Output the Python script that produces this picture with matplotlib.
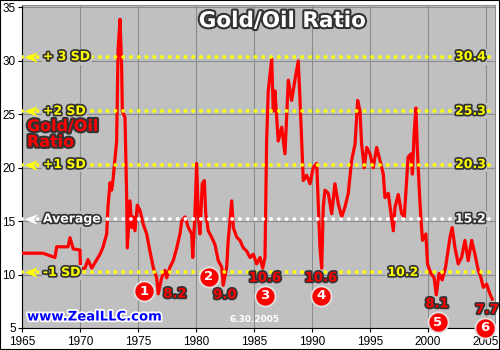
import matplotlib
matplotlib.use("Agg")
import matplotlib.pyplot as plt
import matplotlib.patheffects as pe
from matplotlib.path import Path
from matplotlib.patches import Rectangle

# gold/oil ratio (year, ratio)
years = [1965.0, 1966.81, 1967.84, 1967.99, 1968.97, 1969.14, 1969.42, 1970.0, 1970.04, 1970.43,
         1970.69, 1971.01, 1971.72, 1971.98, 1972.3, 1972.41, 1972.59, 1972.73, 1972.84, 1973.16,
         1973.28, 1973.45, 1973.59, 1973.65, 1973.88, 1974.03, 1974.08, 1974.31, 1974.46, 1974.57,
         1974.74, 1974.94, 1975.17, 1975.46, 1975.75, 1976.03, 1976.32, 1976.61, 1976.75, 1977.04,
         1977.33, 1977.47, 1977.76, 1978.04, 1978.34, 1978.62, 1978.77, 1979.05, 1979.34, 1979.63,
         1979.72, 1979.91, 1980.06, 1980.2, 1980.34, 1980.54, 1980.72, 1980.84, 1981.06, 1981.35,
         1981.64, 1981.92, 1982.22, 1982.35, 1982.65, 1982.78, 1983.08, 1983.22, 1983.51, 1983.79,
         1984.08, 1984.37, 1984.66, 1984.94, 1985.23, 1985.52, 1985.75, 1985.95, 1986.09, 1986.23,
         1986.53, 1986.66, 1986.81, 1987.09, 1987.39, 1987.67, 1987.96, 1988.25, 1988.53, 1988.82,
         1988.97, 1989.11, 1989.25, 1989.54, 1989.83, 1990.11, 1990.41, 1990.49, 1990.69, 1990.84,
         1990.97, 1991.12, 1991.41, 1991.7, 1991.98, 1992.27, 1992.56, 1992.84, 1993.13, 1993.42,
         1993.71, 1993.94, 1994.14, 1994.28, 1994.51, 1994.72, 1995.0, 1995.28, 1995.58, 1995.86,
         1996.15, 1996.29, 1996.58, 1996.81, 1997.01, 1997.16, 1997.44, 1997.73, 1997.96, 1998.09,
         1998.29, 1998.53, 1998.66, 1998.81, 1998.96, 1999.09, 1999.24, 1999.38, 1999.53, 1999.82,
         1999.96, 2000.25, 2000.53, 2000.72, 2000.95, 2001.23, 2001.52, 2001.9, 2002.09, 2002.33,
         2002.61, 2002.9, 2003.19, 2003.47, 2003.77, 2004.05, 2004.34, 2004.57, 2004.77, 2005.06,
         2005.34, 2005.54]
ratio = [12.0, 12.0, 11.6, 12.6, 12.6, 13.45, 12.4, 12.3, 10.55, 10.6,
         11.4, 10.6, 11.9, 12.55, 13.8, 16.3, 18.6, 17.9, 18.8, 22.5,
         31.0, 33.9, 29.4, 25.3, 24.7, 16.9, 12.5, 16.9, 14.4, 15.4,
         14.1, 16.5, 16.0, 14.7, 13.8, 12.2, 10.65, 9.7, 8.2, 9.7,
         10.4, 9.7, 10.7, 11.3, 12.5, 13.8, 15.0, 15.4, 14.4, 13.8,
         11.6, 15.7, 20.4, 15.4, 13.8, 18.5, 18.8, 15.7, 14.1, 13.5,
         12.8, 11.3, 10.7, 9.0, 10.7, 13.2, 16.9, 14.4, 13.5, 13.2,
         12.5, 12.2, 11.6, 11.9, 11.0, 11.6, 10.6, 11.6, 22.5, 27.2,
         30.2, 25.3, 27.2, 22.5, 23.8, 21.3, 28.2, 26.3, 28.2, 30.0,
         26.3, 22.5, 18.8, 19.3, 18.5, 20.0, 20.4, 18.2, 12.5, 10.6,
         16.3, 17.9, 17.6, 15.7, 18.5, 16.6, 15.4, 16.3, 17.6, 20.7,
         22.2, 26.3, 25.3, 22.2, 20.0, 21.9, 21.3, 20.0, 21.9, 20.7,
         19.4, 17.2, 17.6, 15.7, 14.1, 16.3, 17.5, 15.7, 15.4, 17.6,
         21.0, 21.3, 19.4, 23.2, 25.6, 21.6, 18.2, 15.4, 13.2, 13.8,
         11.0, 10.1, 9.7, 8.1, 10.1, 9.5, 10.7, 13.5, 14.4, 12.5,
         11.0, 11.6, 13.2, 11.3, 13.2, 11.9, 10.4, 9.7, 8.8, 9.1,
         8.2, 7.7]

# standard deviation bands
band_names = ["+ 3 SD", "+2 SD", "+1 SD", "Average", "-1 SD"]
band_values = [30.4, 25.3, 20.3, 15.2, 10.2]

# numbered lows
low_numbers = ["1", "2", "3", "4", "5", "6"]
low_labels = ["8.2", "9.0", "10.6", "10.6", "8.1", "7.7"]
circle_x = [1975.52, 1981.12, 1985.95, 1990.78, 2000.86, 2004.91]
circle_y = [8.46, 9.78, 8.0, 8.0, 5.56, 5.0]
label_x = [1978.19, 1982.5, 1985.95, 1990.78, 2000.78, 2005.09]
label_y = [8.18, 8.09, 9.68, 9.68, 7.25, 6.69]

fig = plt.figure(figsize=(5, 3.5), dpi=100)
ax = fig.add_axes([0.044, 0.0629, 0.946, 0.923])
ax.set_facecolor("#c0c0c0")
ax.set_xlim(1965, 2005.78)
ax.set_ylim(5, 35.24)

ax.set_xticks(range(1965, 2006, 5))
ax.set_yticks(range(5, 36, 5))
ax.grid(True, color="#8c8c8c", linewidth=0.8, zorder=0)
ax.set_axisbelow(True)
ax.tick_params(length=3, width=0.8, pad=1.5, labelsize=8.5, colors="black")
ax.tick_params(axis="x", pad=3)
for lab in ax.get_xticklabels() + ax.get_yticklabels():
    lab.set_family("Liberation Sans")
ax.spines["top"].set_color("#8c8c8c")
ax.spines["right"].set_color("#8c8c8c")

ax.plot(years, ratio, color="#ff0000", linewidth=2.3, zorder=3)

dark = [pe.withStroke(linewidth=2.5, foreground="#333333")]
arrow = Path([(-1, 0), (0.9, 0.75), (0.35, 0), (0.9, -0.75), (-1, 0)],
             [Path.MOVETO, Path.LINETO, Path.LINETO, Path.LINETO, Path.CLOSEPOLY])

for name, val in zip(band_names, band_values):
    col = "white" if name == "Average" else "#ffff00"
    ax.plot([1965, 2005.78], [val, val], color=col, linewidth=2.8,
            linestyle=(0, (0.001, 2.0)), dash_capstyle="round", zorder=4)
    ax.plot(1965.78, val, marker=arrow, markersize=10, color=col,
            markeredgecolor="none", zorder=5)
    ax.text(1966.8, val, name, color=col, fontsize=9, fontweight="bold",
            ha="left", va="center", path_effects=dark, zorder=6,
            bbox=dict(facecolor="#c0c0c0", edgecolor="none", pad=1))
    num = "%.1f" % val
    if name == "-1 SD":
        ax.text(1997.84, val, num, color=col, fontsize=9, fontweight="bold",
                ha="center", va="center", path_effects=dark, zorder=6,
                bbox=dict(facecolor="#c0c0c0", edgecolor="none", pad=1))
    else:
        ax.text(2005.0, val, num, color=col, fontsize=9, fontweight="bold",
                ha="right", va="center", path_effects=dark, zorder=6,
                bbox=dict(facecolor="#c0c0c0", edgecolor="none", pad=1))

# numbered circles at the lows
ax.scatter(circle_x, circle_y, s=210, color="#ff0000", edgecolors="#e0e0e0",
           linewidths=1.3, zorder=7, clip_on=False)
for n, cx, cy in zip(low_numbers, circle_x, circle_y):
    ax.text(cx, cy, n, color="white", fontsize=9.5, fontweight="bold",
            ha="center", va="center", zorder=8, clip_on=False)
for t, lx, ly in zip(low_labels, label_x, label_y):
    ax.text(lx, ly, t, color="#ff0000", fontsize=9.5, fontweight="bold",
            ha="center", va="center", path_effects=dark, zorder=8, clip_on=False)

fig.text(0.564, 0.94, "Gold/Oil Ratio", color="white", fontsize=15.5,
         fontweight="bold", ha="center", va="center",
         path_effects=[pe.withStroke(linewidth=3, foreground="#333333")])
fig.text(0.054, 0.616, "Gold/Oil\nRatio", color="#ff0000", fontsize=11.5,
         fontweight="bold", ha="left", va="center", linespacing=1.05,
         path_effects=[pe.withStroke(linewidth=3, foreground="#333333")])
fig.text(0.054, 1 - 317 / 350, "www.ZealLLC.com", color="#0000ff", fontsize=9.5,
         fontweight="bold", ha="left", va="center",
         path_effects=[pe.withStroke(linewidth=2.5, foreground="white")])
fig.text(0.51, 1 - 320 / 350, "6.30.2005", color="white", fontsize=6.5,
         fontweight="bold", ha="center", va="center")

# thin frame round the whole picture
fig.patches.append(Rectangle((0, 0), 1, 1, transform=fig.transFigure, fill=False,
                             edgecolor="black", linewidth=1.5))

fig.savefig("out.png", dpi=100)
